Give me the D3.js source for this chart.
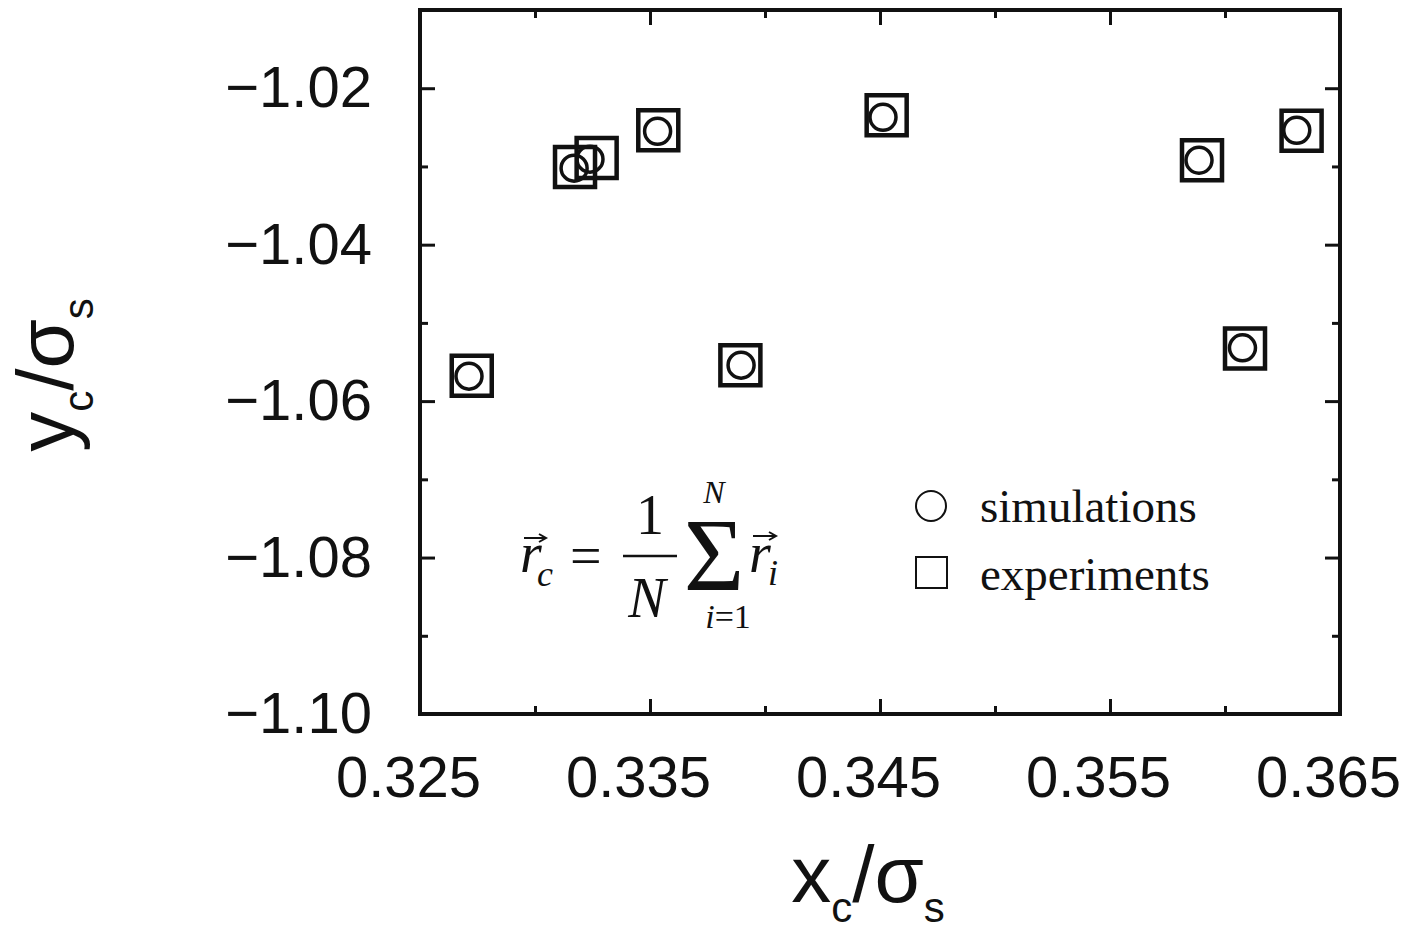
<!DOCTYPE html>
<html>
<head>
<meta charset="utf-8">
<script src="https://cdn.jsdelivr.net/npm/d3@7"></script>
<style>
  body { margin: 0; background: #fff; }
  svg { display: block; }
</style>
</head>
<body>
<div class="chart"></div>
<script>
// centre positions
var simX = [0.32713, 0.33170, 0.33239, 0.33533, 0.33896, 0.34513, 0.35887, 0.36076, 0.36312];
var simY = [-1.05681, -1.03022, -1.02907, -1.02550, -1.05540, -1.02371, -1.02920, -1.05319, -1.02537];
var expX = [0.32725, 0.33174, 0.33268, 0.33536, 0.33893, 0.34529, 0.35900, 0.36087, 0.36333];
var expY = [-1.05675, -1.03006, -1.02891, -1.02537, -1.05540, -1.02345, -1.02920, -1.05329, -1.02543];

var xMajor = [0.325, 0.335, 0.345, 0.355, 0.365];
var xMinor = [0.330, 0.340, 0.350, 0.360];
var yMajor = [-1.02, -1.04, -1.06, -1.08, -1.10];
var yMinor = [-1.01, -1.03, -1.05, -1.07, -1.09];

var legendLabels = ["simulations", "experiments"];

var W = 1410, H = 933;
var margin = {top: 10, left: 420, right: 70, bottom: 219};
var w = W - margin.left - margin.right,
	h = H - margin.top - margin.bottom;

var svg = d3.select(".chart").append("svg")
	.attr("width", W)
	.attr("height", H);

var g = svg.append("g")
	.attr("transform", "translate(" + margin.left + "," + margin.top + ")");

var x = d3.scaleLinear().domain([0.325, 0.365]).range([0, w]);
var y = d3.scaleLinear().domain([-1.10, -1.01]).range([h, 0]);

var sans = "'Liberation Sans', Arial, Helvetica, sans-serif";
var serif = "'Liberation Serif', 'Times New Roman', serif";

// ticks point inward on all four sides
function styleAxis(sel) {
	sel.select(".domain").remove();
	sel.selectAll(".tick line").attr("stroke", "#111").attr("stroke-width", 3);
	sel.selectAll(".tick text")
		.attr("fill", "#111")
		.style("font-family", sans)
		.style("font-size", "58px");
}

g.append("g").attr("transform", "translate(0," + h + ")")
	.call(d3.axisBottom(x).tickValues(xMajor).tickSize(-15).tickPadding(42).tickFormat(d3.format(".3f")))
	.call(styleAxis)
	.selectAll(".tick text").attr("dx", -12);
g.append("g").attr("transform", "translate(0," + h + ")")
	.call(d3.axisBottom(x).tickValues(xMinor).tickSize(-8).tickFormat(""))
	.call(styleAxis);
g.append("g")
	.call(d3.axisTop(x).tickValues(xMajor).tickSize(-15).tickFormat(""))
	.call(styleAxis);
g.append("g")
	.call(d3.axisTop(x).tickValues(xMinor).tickSize(-8).tickFormat(""))
	.call(styleAxis);

g.append("g")
	.call(d3.axisLeft(y).tickValues(yMajor).tickSize(-15).tickPadding(48).tickFormat(d3.format(".2f")))
	.call(styleAxis);
g.append("g")
	.call(d3.axisLeft(y).tickValues(yMinor).tickSize(-8).tickFormat(""))
	.call(styleAxis);
g.append("g").attr("transform", "translate(" + w + ",0)")
	.call(d3.axisRight(y).tickValues(yMajor).tickSize(-15).tickFormat(""))
	.call(styleAxis);
g.append("g").attr("transform", "translate(" + w + ",0)")
	.call(d3.axisRight(y).tickValues(yMinor).tickSize(-8).tickFormat(""))
	.call(styleAxis);

// frame
g.append("rect")
	.attr("width", w).attr("height", h)
	.attr("fill", "none").attr("stroke", "#111").attr("stroke-width", 4);

// experiments: squares
g.selectAll(".exp")
	.data(expX)
	.enter().append("path")
	.attr("class", "exp")
	.attr("d", d3.symbol().type(d3.symbolSquare).size(1600))
	.attr("transform", function(d, i) { return "translate(" + x(d) + "," + y(expY[i]) + ")"; })
	.attr("fill", "none").attr("stroke", "#111").attr("stroke-width", 4.5);

// simulations: circles
g.selectAll(".sim")
	.data(simX)
	.enter().append("circle")
	.attr("class", "sim")
	.attr("cx", function(d) { return x(d); })
	.attr("cy", function(d, i) { return y(simY[i]); })
	.attr("r", 13)
	.attr("fill", "none").attr("stroke", "#111").attr("stroke-width", 3.5);

// legend
var leg = svg.append("g");
leg.append("circle").attr("cx", 931).attr("cy", 506).attr("r", 15)
	.attr("fill", "none").attr("stroke", "#111").attr("stroke-width", 2);
leg.append("rect").attr("x", 916).attr("y", 557).attr("width", 31).attr("height", 31)
	.attr("fill", "none").attr("stroke", "#111").attr("stroke-width", 2);
leg.selectAll("text")
	.data(legendLabels)
	.enter().append("text")
	.attr("x", 980)
	.attr("y", function(d, i) { return 522 + i * 68; })
	.style("font-family", serif)
	.style("font-size", "47px")
	.attr("fill", "#111")
	.text(function(d) { return d; });

// formula  r_c = (1/N) sum r_i
var eq = svg.append("g").attr("fill", "#111").style("font-family", serif);
function t(str, px, py, size, italic, anchor) {
	return eq.append("text").attr("x", px).attr("y", py)
		.style("font-size", size + "px")
		.style("font-style", italic ? "italic" : "normal")
		.attr("text-anchor", anchor || "start")
		.text(str);
}
function arrow(x0, x1, yy) {
	eq.append("path")
		.attr("d", "M" + x0 + "," + yy + "H" + x1 + "M" + (x1 - 7) + "," + (yy - 4) + "L" + x1 + "," + yy + "L" + (x1 - 7) + "," + (yy + 4))
		.attr("fill", "none").attr("stroke", "#111").attr("stroke-width", 2);
}
t("r", 520, 572, 56, true);
arrow(524, 546, 538);
t("c", 537, 586, 36, true);
t("=", 570, 575, 56, false);
eq.append("line").attr("x1", 623).attr("x2", 677).attr("y1", 556).attr("y2", 556)
	.attr("stroke", "#111").attr("stroke-width", 2.5);
t("1", 650, 534, 56, false, "middle");
t("N", 647, 617, 56, true, "middle");
t("\u03A3", 714, 590, 104, false, "middle");
t("N", 714, 503, 32, true, "middle");
eq.append("text").attr("x", 728).attr("y", 628).attr("text-anchor", "middle")
	.style("font-size", "34px")
	.call(function(s) {
		s.append("tspan").style("font-style", "italic").text("i");
		s.append("tspan").text("=1");
	});
t("r", 749, 572, 56, true);
arrow(753, 776, 536);
t("i", 768, 585, 36, true);

// axis titles
function title(sel) {
	sel.attr("fill", "#111").style("font-family", sans).style("font-size", "80px")
		.attr("text-anchor", "middle");
}
var xt = svg.append("text").attr("x", 868).attr("y", 902).call(title);
var yt = svg.append("text").attr("transform", "translate(73,375) rotate(-90)").call(title);
[[xt, "x", "c"], [yt, "y", "c"]].forEach(function(p) {
	p[0].append("tspan").text(p[1]);
	p[0].append("tspan").attr("dy", 20).style("font-size", "42px").text(p[2]);
	p[0].append("tspan").attr("dy", -20).text("/\u03C3");
	p[0].append("tspan").attr("dy", 20).style("font-size", "42px").text("s");
});
</script>
</body>
</html>
